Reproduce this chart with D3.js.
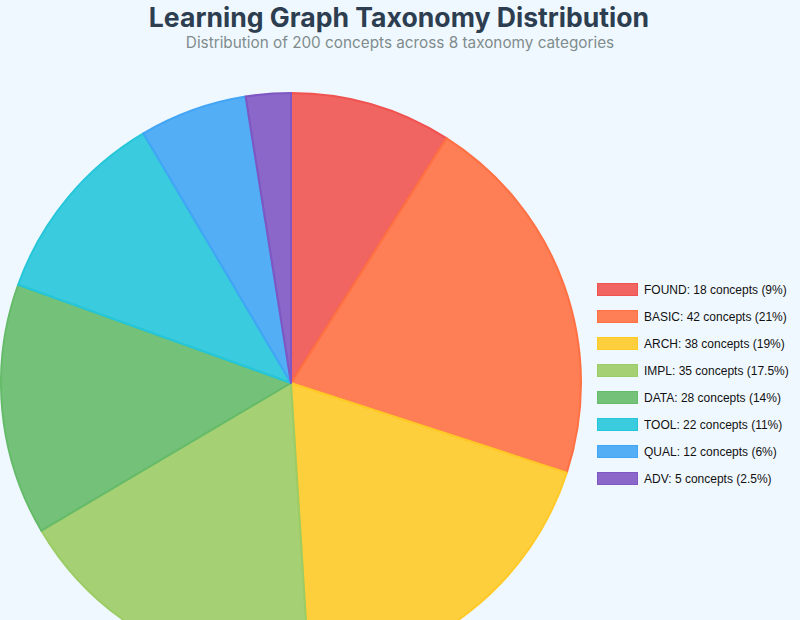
<!DOCTYPE html>
<html>
<head>
<meta charset="utf-8">
<script src="https://cdn.jsdelivr.net/npm/d3@7"></script>
<style>
  html, body { margin: 0; padding: 0; background: #f0f8ff; overflow: hidden; }
  svg { display: block; }
</style>
</head>
<body>
<div id="chart"></div>
<script>
// taxonomy categories and concept counts
const categories = ["FOUND", "BASIC", "ARCH", "IMPL", "DATA", "TOOL", "QUAL", "ADV"];
const counts = [18, 42, 38, 35, 28, 22, 12, 5];
const percents = ["9%", "21%", "19%", "17.5%", "14%", "11%", "6%", "2.5%"];
const colors = ["#ef5350", "#ff7043", "#ffca28", "#9ccc65", "#66bb6a", "#26c6da", "#42a5f5", "#7e57c2"];

const width = 800, height = 620;

const svg = d3.select("#chart")
  .append("svg")
    .attr("width", width)
    .attr("height", height);

// titles
svg.append("text")
  .attr("x", 399)
  .attr("y", 27)
  .attr("text-anchor", "middle")
  .style("font-family", "Inter, 'Noto Sans', sans-serif")
  .style("font-size", "26.6px")
  .style("font-weight", "bold")
  .style("fill", "#2c3e50")
  .text("Learning Graph Taxonomy Distribution");

svg.append("text")
  .attr("x", 400)
  .attr("y", 48)
  .attr("text-anchor", "middle")
  .style("font-family", "Inter, 'Noto Sans', sans-serif")
  .style("font-size", "15.3px")
  .style("fill", "#7f8c8d")
  .text("Distribution of 200 concepts across 8 taxonomy categories");

// pie
let data = categories.map((c, i) => ({ name: c, value: counts[i], pct: percents[i], color: colors[i] }));

let cx = 291, cy = 383, radius = 290;

let pie = d3.pie()
  .value(d => d.value)
  .sort(null);

let arc = d3.arc()
  .innerRadius(0)
  .outerRadius(radius);

let g = svg.append("g")
  .attr("transform", "translate(" + cx + "," + cy + ")");

g.selectAll("path")
  .data(pie(data))
  .enter()
  .append("path")
    .attr("d", arc)
    .attr("fill", d => d.data.color)
    .attr("fill-opacity", 0.9)
    .attr("stroke", d => d.data.color)
    .attr("stroke-width", 2)
    .attr("stroke-linejoin", "round");

// legend
let legend = svg.append("g")
  .attr("transform", "translate(597,283)");

let rows = legend.selectAll("g")
  .data(data)
  .enter()
  .append("g")
    .attr("transform", (d, i) => "translate(0," + (i * 27.0) + ")");

rows.append("rect")
  .attr("x", 0.5)
  .attr("y", 0.5)
  .attr("width", 40)
  .attr("height", 12)
  .attr("fill", d => d.color)
  .attr("fill-opacity", 0.9)
  .attr("stroke", d => d.color)
  .attr("stroke-width", 1);

rows.append("text")
  .attr("x", 47)
  .attr("y", 10.5)
  .style("font-family", "'Liberation Sans', Arial, sans-serif")
  .style("font-size", "12px")
  .style("fill", "#111")
  .text(d => d.name + ": " + d.value + " concepts (" + d.pct + ")");
</script>
</body>
</html>
